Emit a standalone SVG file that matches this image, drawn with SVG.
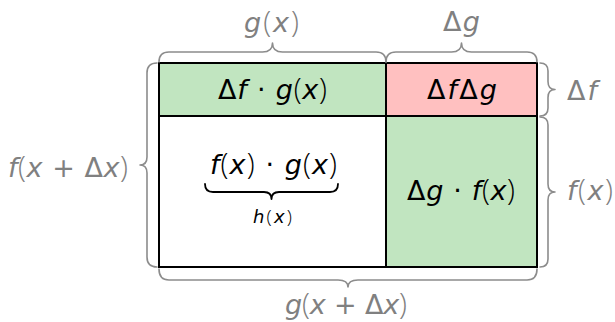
<svg xmlns="http://www.w3.org/2000/svg" width="615" height="322" viewBox="0 0 615 322">
<style>
  .cell { stroke: #000; stroke-width: 2; }
  .green { fill: #c1e5c0; }
  .red { fill: #ffc0c0; }
  .white { fill: #ffffff; }
  .brace { fill: none; stroke: #8c8c8c; stroke-width: 1.6; stroke-linecap: round; stroke-linejoin: round; }
  .ibrace { fill: none; stroke: #000; stroke-width: 1.8; stroke-linecap: round; stroke-linejoin: round; }
  text { font-family: "DejaVu Sans", "Liberation Sans", sans-serif; font-size: 27px; }
  .blk { fill: #000; text-anchor: middle; }
  .gry { fill: #808080; }
  .mid { text-anchor: middle; }
  .it { font-style: italic; }
  .p { font-family: "Open Sans", "Liberation Sans", sans-serif; font-weight: 300; font-size: 29px; }
  .sm { font-size: 18px; }
  .sm .p { font-size: 19px; }
</style>
<rect x="0" y="0" width="615" height="322" fill="#ffffff"/>

<g id="cell-df-g">
  <rect class="cell green" x="159" y="63" width="227" height="53"/>
  <text class="blk" x="272.5" y="99" textLength="109" lengthAdjust="spacing">Δ<tspan class="it">f</tspan> · <tspan class="it">g</tspan><tspan class="p">(</tspan><tspan class="it">x</tspan><tspan class="p">)</tspan></text>
</g>
<g id="cell-df-dg">
  <rect class="cell red" x="386" y="63" width="151" height="53"/>
  <text class="blk" x="462" y="99" textLength="70" lengthAdjust="spacing">Δ<tspan class="it">f</tspan>Δ<tspan class="it">g</tspan></text>
</g>
<g id="cell-f-g">
  <rect class="cell white" x="159" y="116" width="227" height="151"/>
  <text class="blk" x="273.5" y="174" textLength="127" lengthAdjust="spacing"><tspan class="it">f</tspan><tspan class="p">(</tspan><tspan class="it">x</tspan><tspan class="p">)</tspan> · <tspan class="it">g</tspan><tspan class="p">(</tspan><tspan class="it">x</tspan><tspan class="p">)</tspan></text>
  <path class="ibrace" d="M205,184 Q205,192 213,192 H264 Q271.5,192 271.5,199 Q271.5,192 279,192 H330 Q338,192 338,184"/>
  <text class="blk sm" x="272.5" y="223" textLength="39" lengthAdjust="spacing"><tspan class="it">h</tspan><tspan class="p">(</tspan><tspan class="it">x</tspan><tspan class="p">)</tspan></text>
</g>
<g id="cell-dg-f">
  <rect class="cell green" x="386" y="116" width="151" height="151"/>
  <text class="blk" x="461" y="200" textLength="108" lengthAdjust="spacing">Δ<tspan class="it">g</tspan> · <tspan class="it">f</tspan><tspan class="p">(</tspan><tspan class="it">x</tspan><tspan class="p">)</tspan></text>
</g>

<g id="connectors">
  <path class="brace" d="M159,62 Q159,52 169,52 H262.5 Q272.5,52 272.5,43 Q272.5,52 282.5,52 H376 Q386,52 386,62"/>
  <path class="brace" d="M386,62 Q386,52 396,52 H451.5 Q461.5,52 461.5,43 Q461.5,52 471.5,52 H527 Q537,52 537,62"/>
  <path class="brace" d="M540,63 Q548,63 548,71 V81.5 Q548,89.5 555,89.5 Q548,89.5 548,97.5 V108 Q548,116 540,116"/>
  <path class="brace" d="M540,117 Q548,117 548,125 V184 Q548,192 555,192 Q548,192 548,200 V259 Q548,267 540,267"/>
  <path class="brace" d="M157,63 Q147,63 147,73 V157 Q147,165 140,165 Q147,165 147,173 V257 Q147,267 157,267"/>
  <path class="brace" d="M159,269 Q159,280 169,280 H338 Q348,280 348,287 Q348,280 358,280 H527 Q537,280 537,269"/>
</g>

<g id="labels">
  <text class="gry mid" x="271.5" y="32" textLength="55" lengthAdjust="spacing"><tspan class="it">g</tspan><tspan class="p">(</tspan><tspan class="it">x</tspan><tspan class="p">)</tspan></text>
  <text class="gry mid" x="461.5" y="31" textLength="37" lengthAdjust="spacing">Δ<tspan class="it">g</tspan></text>
  <text class="gry" x="567" y="100" textLength="30" lengthAdjust="spacing">Δ<tspan class="it">f</tspan></text>
  <text class="gry" x="567" y="200" textLength="46" lengthAdjust="spacing"><tspan class="it">f</tspan><tspan class="p">(</tspan><tspan class="it">x</tspan><tspan class="p">)</tspan></text>
  <text class="gry" x="8" y="177" textLength="120" lengthAdjust="spacing"><tspan class="it">f</tspan><tspan class="p">(</tspan><tspan class="it">x</tspan> + Δ<tspan class="it">x</tspan><tspan class="p">)</tspan></text>
  <text class="gry mid" x="346" y="314" textLength="122" lengthAdjust="spacing"><tspan class="it">g</tspan><tspan class="p">(</tspan><tspan class="it">x</tspan> + Δ<tspan class="it">x</tspan><tspan class="p">)</tspan></text>
</g>
</svg>
